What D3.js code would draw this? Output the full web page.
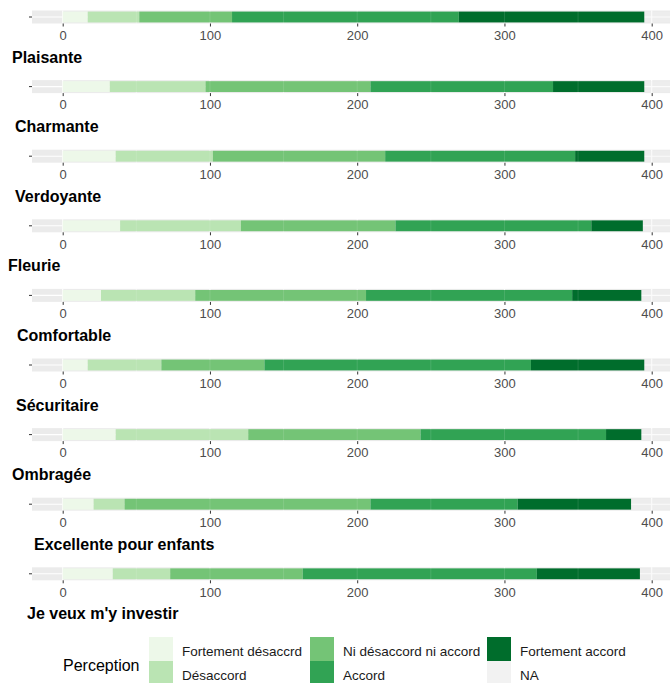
<!DOCTYPE html>
<html>
<head>
<meta charset="UTF-8">
<title>Perception</title>
<style>
  body { margin: 0; background: #fff; }
  svg { font-family: "Liberation Sans", Arial, sans-serif; display: block; }
</style>
</head>
<body>
<svg id="chart"></svg>
<script src="https://d3js.org/d3.v7.min.js"></script>
<script>

// data
var items = ["Plaisante", "Charmante", "Verdoyante", "Fleurie", "Comfortable",
             "Sécuritaire", "Ombragée", "Excellente pour enfants", "Je veux m'y investir"];
var fortDesaccord = [17, 32, 36, 39, 26, 17, 36, 21, 34];
var desaccord     = [35, 65, 66, 82, 64, 50, 90, 21, 39];
var niNi          = [63, 112, 117, 105, 116, 70, 117, 167, 90];
var accord        = [154, 124, 129, 133, 140, 181, 126, 100, 159];
var fortAccord    = [126, 62, 47, 35, 47, 77, 24, 77, 70];
var naVals        = [21, 21, 21, 22, 23, 21, 23, 30, 24];
var levels = ["Fortement désaccrd", "Désaccord", "Ni désaccord ni accord", "Accord", "Fortement accord", "NA"];
var tickVals = [0, 100, 200, 300, 400];
var minorVals = [50, 150, 250, 350];

// layout
var width = 670, height = 683;
var titleX = [12, 15, 15, 8, 17, 16, 12, 34, 27];
var panelTop0 = 10.5, panelStep = 69.6, panelH = 13;
var panelLeft = 32, panelRight = 670;

var svg = d3.select("#chart").attr("width", width).attr("height", height);

var x = d3.scaleLinear().domain([0, 400]).range([62.7, 651.7]);

var color = d3.scaleOrdinal()
    .domain(levels)
    .range(["#edf8e9", "#bae4b3", "#74c476", "#31a354", "#006d2c", "#f2f2f2"]);

var rows = items.map(function(name, i) {
    return {
        name: name,
        "Fortement désaccrd": fortDesaccord[i],
        "Désaccord": desaccord[i],
        "Ni désaccord ni accord": niNi[i],
        "Accord": accord[i],
        "Fortement accord": fortAccord[i],
        "NA": naVals[i]
    };
});

var stacked = d3.stack().keys(levels)(rows);

rows.forEach(function(row, i) {
    var top = panelTop0 + i * panelStep;
    var g = svg.append("g").attr("transform", "translate(0," + top + ")");

    var y = d3.scaleBand().domain([row.name]).range([0, panelH]).paddingInner(0).paddingOuter(0.1);
    // panel background
    g.append("rect")
        .attr("x", panelLeft).attr("y", 0)
        .attr("width", panelRight - panelLeft).attr("height", panelH)
        .attr("fill", "#ebebeb");

    // grid
    g.selectAll(".minor").data(minorVals).enter().append("line")
        .attr("x1", d => x(d)).attr("x2", d => x(d))
        .attr("y1", 0).attr("y2", panelH)
        .attr("stroke", "#fff").attr("stroke-width", 0.55);
    g.selectAll(".major").data(tickVals).enter().append("line")
        .attr("x1", d => x(d)).attr("x2", d => x(d))
        .attr("y1", 0).attr("y2", panelH)
        .attr("stroke", "#fff").attr("stroke-width", 1.1);
    g.append("line")
        .attr("x1", panelLeft).attr("x2", panelRight)
        .attr("y1", panelH / 2).attr("y2", panelH / 2)
        .attr("stroke", "#fff").attr("stroke-width", 1.1);

    // stacked bar (NA nearly blends with the panel)
    g.selectAll(".seg")
        .data(stacked.map(function(s) { return {key: s.key, v: s[i]}; }))
        .enter().append("rect")
        .attr("x", d => x(d.v[0]))
        .attr("width", d => x(d.v[1]) - x(d.v[0]))
        .attr("y", y(row.name))
        .attr("height", y.bandwidth())
        .attr("fill", d => color(d.key))
        .attr("fill-opacity", d => d.key === "NA" ? 0.3 : 1);

    // faint grid through bars
    g.selectAll(".over").data(minorVals.concat(tickVals)).enter().append("line")
        .attr("x1", d => x(d)).attr("x2", d => x(d))
        .attr("y1", y(row.name)).attr("y2", y(row.name) + y.bandwidth())
        .attr("stroke", "#fff").attr("stroke-opacity", 0.12).attr("stroke-width", 1);

    // y tick
    g.append("line")
        .attr("x1", panelLeft - 3).attr("x2", panelLeft)
        .attr("y1", panelH / 2).attr("y2", panelH / 2)
        .attr("stroke", "#333").attr("stroke-width", 1);

    // x axis
    var axis = g.append("g")
        .attr("transform", "translate(0," + panelH + ")")
        .call(d3.axisBottom(x).tickValues(tickVals).tickSize(3).tickPadding(4));
    axis.select(".domain").remove();
    axis.selectAll(".tick line").attr("stroke", "#333");
    axis.selectAll(".tick text")
        .attr("fill", "#4d4d4d")
        .style("font-size", "13px")
        .style("font-family", "'Liberation Sans', Arial, sans-serif");

    // title
    g.append("text")
        .attr("x", titleX[i]).attr("y", 52)
        .style("font-size", "16px")
        .style("font-weight", "bold")
        .attr("fill", "#000")
        .text(row.name);
});

// legend
var legend = svg.append("g");
legend.append("text")
    .attr("x", 63).attr("y", 665)
    .attr("dominant-baseline", "central")
    .style("font-size", "16px")
    .attr("fill", "#000")
    .text("Perception");

var colX = [149, 310, 487], rowY = [637, 661], key = 24;
levels.forEach(function(lv, k) {
    var cx = colX[Math.floor(k / 2)], cy = rowY[k % 2];
    legend.append("rect")
        .attr("x", cx).attr("y", cy)
        .attr("width", key).attr("height", key)
        .attr("fill", color(lv));
    legend.append("text")
        .attr("x", cx + 33).attr("y", cy + key / 2 + 2)
        .attr("dominant-baseline", "central")
        .style("font-size", "13.5px")
        .attr("fill", "#1a1a1a")
        .text(lv);
});

</script>
</body>
</html>
